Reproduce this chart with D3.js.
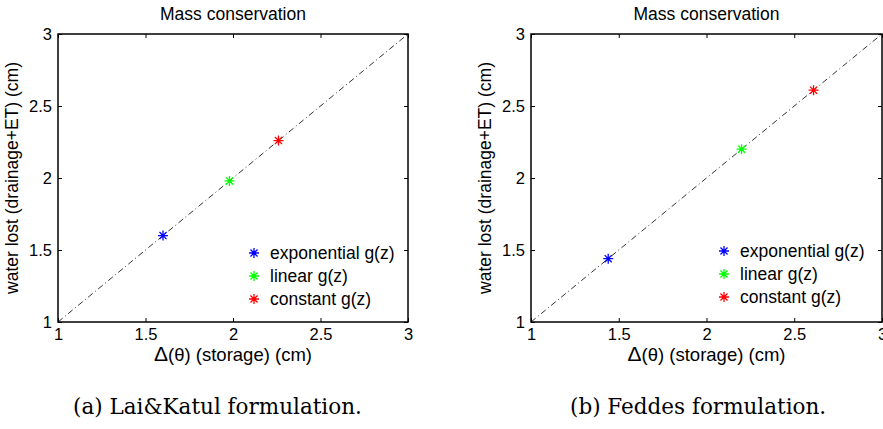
<!DOCTYPE html>
<html>
<head>
<meta charset="utf-8">
<script src="https://cdn.jsdelivr.net/npm/d3@7"></script>
<style>
  body { margin: 0; background: #fff; }
  svg { display: block; }
</style>
</head>
<body>
<svg id="chart" width="883" height="429"></svg>
<script>
// Data
const seriesNames = ['exponential g(z)', 'linear g(z)', 'constant g(z)'];
const seriesColors = ['#0000ff', '#00ff00', '#ff0000'];
const laiKatulStorage = [1.60, 1.98, 2.26];
const laiKatulLost = [1.60, 1.98, 2.26];
const feddesStorage = [1.44, 2.20, 2.61];
const feddesLost = [1.44, 2.20, 2.61];
const axisTicks = [1, 1.5, 2, 2.5, 3];
const axisDomain = [1, 3];
const captions = ['(a) Lai&Katul formulation.', '(b) Feddes formulation.'];

const SANS = '"Liberation Sans", Arial, Helvetica, sans-serif';
const SERIF = '"DejaVu Serif", "Liberation Serif", serif';

const svg = d3.select('#chart');

// 8-armed asterisk like the matlab '*' marker
function asteriskPath(r) {
    const d = r * Math.SQRT1_2;
    return `M${-r},0L${r},0M0,${-r}L0,${r}M${-d},${-d}L${d},${d}M${-d},${d}L${d},${-d}`;
}

function drawPanel(opts) {
    const { left, right, top, bottom, storage, lost, legendX, legendY, caption, captionX } = opts;

    const x = d3.scaleLinear().domain(axisDomain).range([left, right]);
    const y = d3.scaleLinear().domain(axisDomain).range([bottom, top]);
    const g = svg.append('g');

    // Title
    g.append('text')
        .attr('x', (left + right) / 2)
        .attr('y', 20)
        .attr('text-anchor', 'middle')
        .attr('font-family', SANS)
        .attr('font-size', '17.5px')
        .text('Mass conservation');

    // 1:1 line
    g.append('line')
        .attr('x1', x(axisDomain[0])).attr('y1', y(axisDomain[0]))
        .attr('x2', x(axisDomain[1])).attr('y2', y(axisDomain[1]))
        .attr('stroke', '#000')
        .attr('stroke-width', 0.8)
        .attr('stroke-dasharray', '6,3,1,3');

    // Ticks on all four sides, pointing inwards
    const tickLen = 4;
    const tickLabels = axisTicks.map(String);
    const axB = d3.axisBottom(x).tickValues(axisTicks).tickSize(-tickLen).tickPadding(6).tickFormat((d, i) => tickLabels[i]);
    const axT = d3.axisTop(x).tickValues(axisTicks).tickSize(-tickLen).tickFormat('');
    const axL = d3.axisLeft(y).tickValues(axisTicks).tickSize(-tickLen).tickPadding(6).tickFormat((d, i) => tickLabels[i]);
    const axR = d3.axisRight(y).tickValues(axisTicks).tickSize(-tickLen).tickFormat('');

    [[axB, `translate(0,${bottom})`], [axT, `translate(0,${top})`],
     [axL, `translate(${left},0)`], [axR, `translate(${right},0)`]].forEach(([ax, tr]) => {
        const a = g.append('g').attr('transform', tr).call(ax);
        a.select('.domain').remove();
        a.attr('font-family', SANS).attr('font-size', '16.5px');
        a.selectAll('line').attr('stroke', '#000').attr('stroke-width', 1);
        a.selectAll('text').attr('fill', '#000');
    });

    // Box
    g.append('rect')
        .attr('x', left).attr('y', top)
        .attr('width', right - left).attr('height', bottom - top)
        .attr('fill', 'none')
        .attr('stroke', '#000')
        .attr('stroke-width', 1.5);

    // Points
    g.selectAll('.pt')
        .data(storage.map((s, i) => ({ s: s, l: lost[i], c: seriesColors[i] })))
        .enter()
        .append('path')
        .attr('class', 'pt')
        .attr('transform', d => `translate(${x(d.s)},${y(d.l)})`)
        .attr('d', asteriskPath(5))
        .attr('stroke', d => d.c)
        .attr('stroke-width', 1.3)
        .attr('fill', 'none');

    // Axis titles
    const xl = g.append('text')
        .attr('x', (left + right) / 2)
        .attr('y', 361)
        .attr('text-anchor', 'middle')
        .attr('font-family', SANS)
        .attr('font-size', '18.5px');
    xl.append('tspan').attr('font-size', '21px').text('Δ');
    xl.append('tspan').text('(θ) (storage) (cm)');

    g.append('text')
        .attr('transform', `translate(${left - 40},${(top + bottom) / 2}) rotate(-90)`)
        .attr('text-anchor', 'middle')
        .attr('font-family', SANS)
        .attr('font-size', '17.5px')
        .text('water lost (drainage+ET) (cm)');

    // Legend
    const legend = g.append('g').attr('transform', `translate(${legendX},${legendY})`);
    seriesNames.forEach((name, i) => {
        const row = legend.append('g').attr('transform', `translate(0,${i * 23})`);
        row.append('path')
            .attr('d', asteriskPath(5))
            .attr('stroke', seriesColors[i])
            .attr('stroke-width', 1.3)
            .attr('fill', 'none');
        row.append('text')
            .attr('x', 16)
            .attr('y', 6)
            .attr('font-family', SANS)
            .attr('font-size', '17.5px')
            .text(name);
    });

    // Caption
    svg.append('text')
        .attr('x', captionX)
        .attr('y', 414)
        .attr('font-family', SERIF)
        .attr('font-size', '21.5px')
        .text(caption);
}

drawPanel({
    left: 58, right: 408, top: 34, bottom: 322,
    storage: laiKatulStorage, lost: laiKatulLost,
    legendX: 254, legendY: 253,
    caption: captions[0], captionX: 73
});

drawPanel({
    left: 531, right: 882, top: 34, bottom: 322,
    storage: feddesStorage, lost: feddesLost,
    legendX: 724, legendY: 251,
    caption: captions[1], captionX: 570
});
</script>
</body>
</html>
